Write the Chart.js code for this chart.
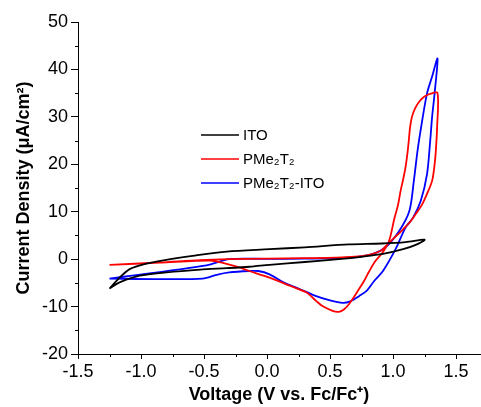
<!DOCTYPE html>
<html>
<head>
<meta charset="utf-8">
<script src="https://cdn.jsdelivr.net/npm/chart.js@4.4.1/dist/chart.umd.min.js"></script>
<style>
  html, body { margin: 0; padding: 0; background: #fff; }
  #wrap { width: 481px; height: 407px; }
</style>
</head>
<body>
<div id="wrap"><canvas id="cv"></canvas></div>
<script>
// cyclic voltammograms, values (V vs. Fc/Fc+, uA/cm2)
const itoV = [-1.25, -1.17, -1.09, -0.98, -0.80, -0.59, -0.32, 0.02, 0.30, 0.65, 0.91, 1.10, 1.25,
  1.18, 1.08, 0.92, 0.75, 0.57, 0.30, 0.02, -0.14, -0.32, -0.53, -0.80, -1.01, -1.17, -1.25];
const itoJ = [-6.2, -3.9, -2.1, -1.1, -0.15, 0.7, 1.6, 2.1, 2.5, 3.1, 3.3, 3.6, 4.1,
  3.0, 2.1, 1.1, 0.5, 0.0, -0.6, -1.2, -1.6, -1.9, -2.2, -2.8, -3.5, -4.9, -6.2];

const polyV = [-1.25, -0.85, -0.53, -0.30, 0.00, 0.30, 0.55, 0.70, 0.79, 0.87, 0.91, 0.97, 1.03, 1.08,
  1.14, 1.18, 1.23, 1.27, 1.31, 1.33, 1.34, 1.35, 1.353,
  1.30, 1.25, 1.21, 1.175, 1.15, 1.135, 1.125, 1.115, 1.10, 1.08, 1.06, 1.04, 1.01, 0.97, 0.92, 0.86,
  0.81, 0.77, 0.73, 0.69, 0.65, 0.61, 0.57, 0.52, 0.44, 0.39, 0.31, 0.18, 0.02, -0.14, -0.24,
  -0.35, -0.45, -0.85, -1.25];
const polyJ = [-1.2, -0.7, -0.2, 0.0, 0.1, 0.2, 0.3, 0.5, 0.8, 1.4, 1.9, 3.5, 5.0, 6.3,
  8.0, 9.5, 11.5, 13.8, 16.5, 20.0, 23.0, 28.0, 35.0,
  34.9, 34.3, 33.3, 31.8, 30.0, 27.8, 25.0, 22.5, 19.5, 16.8, 14.4, 11.5, 8.5, 4.0, 1.5, -0.4,
  -2.6, -4.6, -6.3, -8.0, -9.5, -10.6, -11.1, -10.9, -9.9, -8.8, -7.0, -5.6, -3.9, -2.5, -1.6,
  -0.8, -0.3, -0.75, -1.2];

const mixV = [-1.25, -0.48, -0.30, 0.00, 0.30, 0.57, 0.72, 0.84, 0.94, 1.05, 1.13, 1.165, 1.195,
  1.23, 1.27, 1.31, 1.353,
  1.33, 1.31, 1.295, 1.27, 1.22, 1.16, 1.10, 1.02, 0.92, 0.85, 0.79, 0.73, 0.66, 0.60, 0.50,
  0.39, 0.25, 0.13, 0.02, -0.07, -0.14, -0.30, -0.40, -0.51, -0.90, -1.25];
const mixJ = [-4.1, -1.3, 0.0, 0.05, 0.1, 0.2, 0.5, 1.1, 2.5, 6.0, 10.2, 16.5, 23.0,
  29.0, 35.0, 38.5, 42.3,
  35.0, 30.0, 25.0, 18.0, 12.3, 8.8, 6.7, 2.1, -2.5, -4.6, -6.7, -7.8, -8.9, -9.2, -8.7,
  -7.8, -6.2, -4.9, -3.2, -2.5, -2.5, -2.8, -3.3, -4.1, -4.2, -4.1];

const seriesLabels = ['ITO', 'PMe\u2082T\u2082', 'PMe\u2082T\u2082-ITO'];
const seriesColors = ['#000000', '#ff0000', '#0000ff'];

const xTicks = [-1.5, -1.0, -0.5, 0.0, 0.5, 1.0, 1.5];
const xMinor = [-1.25, -0.75, -0.25, 0.25, 0.75, 1.25];
const yTicks = [-20, -10, 0, 10, 20, 30, 40, 50];
const yMinor = [-15, -5, 5, 15, 25, 35, 45];

const FONT = '"Liberation Sans", Arial, Helvetica, sans-serif';

function toPoints(vs, js) {
  return vs.map((v, i) => ({ x: v, y: js[i] }));
}

// short ticks between the labelled ones
const minorTicks = {
  id: 'minorTicks',
  afterDraw(chart) {
    const { ctx, scales: { x, y } } = chart;
    ctx.save();
    ctx.strokeStyle = '#000';
    ctx.lineWidth = 1;
    ctx.beginPath();
    xMinor.forEach(v => {
      const px = Math.round(x.getPixelForValue(v)) + 0.5;
      ctx.moveTo(px, x.top);
      ctx.lineTo(px, x.top + 3);
    });
    yMinor.forEach(v => {
      const py = Math.round(y.getPixelForValue(v)) + 0.5;
      ctx.moveTo(y.right, py);
      ctx.lineTo(y.right - 3, py);
    });
    ctx.stroke();
    ctx.restore();
  }
};

// legend sits inside the plot, left of the oxidation wave
const insideLegend = {
  id: 'insideLegend',
  afterDraw(chart) {
    const ctx = chart.ctx;
    ctx.save();
    ctx.font = '15px ' + FONT;
    ctx.textBaseline = 'middle';
    chart.data.datasets.forEach((ds, i) => {
      const yy = 135 + i * 24;
      ctx.strokeStyle = ds.borderColor;
      ctx.lineWidth = 1.5;
      ctx.beginPath();
      ctx.moveTo(201, yy);
      ctx.lineTo(239, yy);
      ctx.stroke();
      ctx.fillStyle = '#000';
      ctx.fillText(ds.label, 243, yy + 1);
    });
    ctx.restore();
  }
};

const datasets = [
  toPoints(itoV, itoJ),
  toPoints(polyV, polyJ),
  toPoints(mixV, mixJ)
].map((pts, i) => ({
  label: seriesLabels[i],
  data: pts,
  showLine: true,
  borderColor: seriesColors[i],
  backgroundColor: seriesColors[i],
  borderWidth: 1.8,
  pointRadius: 0,
  tension: 0.3,
  fill: false
}));

new Chart(document.getElementById('cv'), {
  type: 'scatter',
  data: { datasets },
  plugins: [minorTicks, insideLegend],
  options: {
    responsive: true,
    maintainAspectRatio: false,
    animation: false,
    devicePixelRatio: 1,
    layout: { padding: { top: 22, right: 1, bottom: 0, left: 0 } },
    plugins: {
      legend: { display: false },
      tooltip: { enabled: false }
    },
    scales: {
      x: {
        type: 'linear',
        min: -1.5,
        max: 1.69,
        afterBuildTicks: s => { s.ticks = xTicks.map(v => ({ value: v })); },
        afterFit: s => { s.height = 53; },
        grid: { drawOnChartArea: false, drawTicks: true, tickLength: 5, color: '#000', tickColor: '#000' },
        border: { display: true, color: '#000', width: 1 },
        ticks: {
          color: '#000', font: { family: FONT, size: 18 }, padding: 2,
          maxRotation: 0, autoSkip: false,
          callback: v => v.toFixed(1)
        },
        title: {
          display: true, text: 'Voltage (V vs. Fc/Fc\u207A)', color: '#000',
          font: { family: FONT, size: 18, weight: 'bold' }, padding: { top: 0, bottom: 1 }
        }
      },
      y: {
        type: 'linear',
        min: -20,
        max: 50,
        afterBuildTicks: s => { s.ticks = yTicks.map(v => ({ value: v })); },
        afterFit: s => { s.width = 78; },
        grid: { drawOnChartArea: false, drawTicks: true, tickLength: 7, color: '#000', tickColor: '#000' },
        border: { display: true, color: '#000', width: 1 },
        ticks: {
          color: '#000', font: { family: FONT, size: 18 }, padding: 3,
          autoSkip: false,
          callback: v => String(v)
        },
        title: {
          display: true, text: 'Current Density (\u03BCA/cm\u00B2)', color: '#000',
          font: { family: FONT, size: 18, weight: 'bold' }, padding: { top: 13, bottom: 0 }
        }
      }
    }
  }
});
</script>
</body>
</html>
